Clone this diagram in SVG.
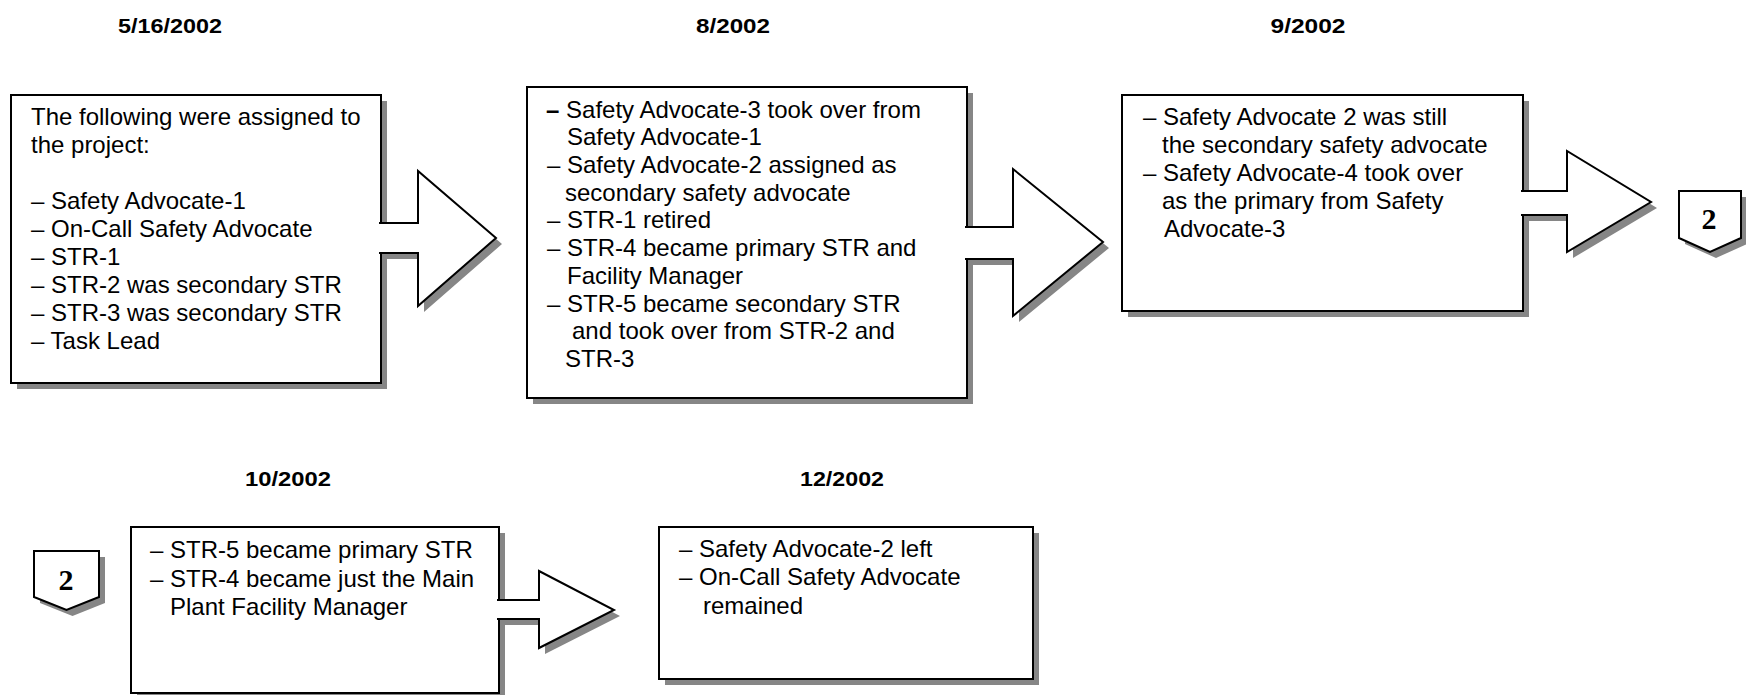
<svg xmlns="http://www.w3.org/2000/svg" width="1746" height="695" viewBox="0 0 1746 695">
  <defs>
    <style>
      .bg { fill: #ffffff; }
      .shadow { fill: #868686; stroke: none; }
      .box { fill: #ffffff; stroke: #000000; stroke-width: 2; }
      .arrow { fill: #ffffff; stroke: #000000; stroke-width: 2; stroke-linejoin: miter; }
      .t { font-family: "Liberation Sans", Arial, sans-serif; font-size: 24px; fill: #000000; }
      .date { font-family: "Liberation Sans", Arial, sans-serif; font-size: 21px; font-weight: bold; fill: #000000; text-anchor: middle; }
      .num { font-family: "Liberation Serif", "Times New Roman", serif; font-size: 30px; font-weight: bold; fill: #000000; text-anchor: middle; }
      .heavy { font-weight: bold; }
    </style>
  </defs>

  <rect class="bg" x="0" y="0" width="1746" height="695"/>

  <!-- Date headings -->
  <g id="dates">
    <text class="date" x="170" y="33" textLength="104" lengthAdjust="spacingAndGlyphs">5/16/2002</text>
    <text class="date" x="733" y="33" textLength="74" lengthAdjust="spacingAndGlyphs">8/2002</text>
    <text class="date" x="1308" y="33" textLength="75" lengthAdjust="spacingAndGlyphs">9/2002</text>
    <text class="date" x="288" y="486" textLength="86" lengthAdjust="spacingAndGlyphs">10/2002</text>
    <text class="date" x="842" y="486" textLength="84" lengthAdjust="spacingAndGlyphs">12/2002</text>
  </g>

  <!-- 5/16/2002 -->
  <g id="box-may">
    <rect class="shadow" x="17" y="101" width="370" height="288"/>
    <rect class="box" x="11" y="95" width="370" height="288"/>
    <text class="t" x="31" y="125">The following were assigned to</text>
    <text class="t" x="31" y="153">the project:</text>
    <text class="t" x="31" y="208.5">– Safety Advocate-1</text>
    <text class="t" x="31" y="236.5">– On-Call Safety Advocate</text>
    <text class="t" x="31" y="264.5">– STR-1</text>
    <text class="t" x="31" y="292.5">– STR-2 was secondary STR</text>
    <text class="t" x="31" y="320.5">– STR-3 was secondary STR</text>
    <text class="t" x="31" y="348.5">– Task Lead</text>
  </g>

  <!-- 8/2002 -->
  <g id="box-aug">
    <rect class="shadow" x="533" y="93" width="440" height="311"/>
    <rect class="box" x="527" y="87" width="440" height="311"/>
    <text class="t" x="546" y="118"><tspan class="heavy">–</tspan> Safety Advocate-3 took over from</text>
    <text class="t" x="567" y="145.2">Safety Advocate-1</text>
    <text class="t" x="547" y="172.9">– Safety Advocate-2 assigned as</text>
    <text class="t" x="565" y="200.6">secondary safety advocate</text>
    <text class="t" x="547" y="228.3">– STR-1 retired</text>
    <text class="t" x="547" y="256">– STR-4 became primary STR and</text>
    <text class="t" x="567" y="283.8">Facility Manager</text>
    <text class="t" x="547" y="311.6">– STR-5 became secondary STR</text>
    <text class="t" x="572" y="339.4">and took over from STR-2 and</text>
    <text class="t" x="565" y="367.2">STR-3</text>
  </g>

  <!-- 9/2002 -->
  <g id="box-sep">
    <rect class="shadow" x="1128" y="101" width="401" height="216"/>
    <rect class="box" x="1122" y="95" width="401" height="216"/>
    <text class="t" x="1143" y="125">– Safety Advocate 2 was still</text>
    <text class="t" x="1162" y="153">the secondary safety advocate</text>
    <text class="t" x="1143" y="181">– Safety Advocate-4 took over</text>
    <text class="t" x="1162" y="209">as the primary from Safety</text>
    <text class="t" x="1164" y="237">Advocate-3</text>
  </g>

  <!-- Off-page connector, outgoing -->
  <g id="offpage-out">
    <path class="shadow" d="M1685,197 H1747 V244 L1716,258 L1685,244 Z"/>
    <path class="box" d="M1679,191 H1741 V238 L1710,252 L1679,238 Z"/>
    <text class="num" x="1709" y="229">2</text>
  </g>

  <!-- Off-page connector, incoming -->
  <g id="offpage-in">
    <path class="shadow" d="M40,557 H105 V603 L72.5,616 L40,603 Z"/>
    <path class="box" d="M34,551 H99 V597 L66.5,610 L34,597 Z"/>
    <text class="num" x="66" y="590">2</text>
  </g>

  <!-- 10/2002 -->
  <g id="box-oct">
    <rect class="shadow" x="137" y="533" width="368" height="166"/>
    <rect class="box" x="131" y="527" width="368" height="166"/>
    <text class="t" x="150" y="558">– STR-5 became primary STR</text>
    <text class="t" x="150" y="587">– STR-4 became just the Main</text>
    <text class="t" x="170" y="615">Plant Facility Manager</text>
  </g>

  <!-- 12/2002 -->
  <g id="box-dec">
    <rect class="shadow" x="665" y="533" width="374" height="152"/>
    <rect class="box" x="659" y="527" width="374" height="152"/>
    <text class="t" x="679" y="557">– Safety Advocate-2 left</text>
    <text class="t" x="679" y="585">– On-Call Safety Advocate</text>
    <text class="t" x="703" y="614">remained</text>
  </g>

  <!-- Block arrows joining the periods -->
  <g id="connectors">
    <path class="shadow" d="M385,229 H424 V177 L502,244 L424,312 V259 H385 Z"/>
    <path class="arrow" d="M379,223 H418 V171 L496,238 L418,306 V253 H379"/>

    <path class="shadow" d="M971,233 H1019 V175 L1109,248 L1019,322 V265 H971 Z"/>
    <path class="arrow" d="M965,227 H1013 V169 L1103,242 L1013,316 V259 H965"/>

    <path class="shadow" d="M1527,197 H1573 V157 L1657,208 L1573,258 V221 H1527 Z"/>
    <path class="arrow" d="M1521,191 H1567 V151 L1651,202 L1567,252 V215 H1521"/>

    <path class="shadow" d="M503,606 H545 V577 L620,616 L545,654 V625 H503 Z"/>
    <path class="arrow" d="M497,600 H539 V571 L614,610 L539,648 V619 H497"/>
  </g>
</svg>
